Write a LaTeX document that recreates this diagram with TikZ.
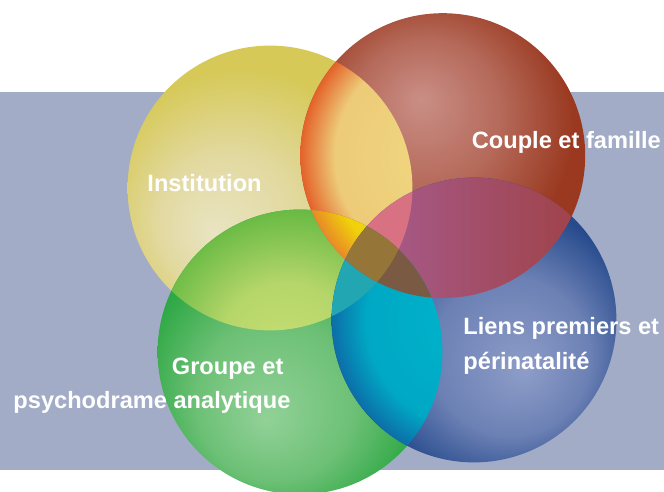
\documentclass[tikz,border=0pt]{standalone}
\usepackage{fontspec}
\setmainfont{Liberation Sans}

\definecolor{bandblue}{HTML}{A2ACC6}
\definecolor{yelIn}{HTML}{E9E4C2}
\definecolor{yelMid}{HTML}{E2D9A0}
\definecolor{yelOut}{HTML}{D6C958}
\definecolor{redIn}{HTML}{CA8E86}
\definecolor{redMid}{HTML}{B56A5A}
\definecolor{redOut}{HTML}{9A3920}
\definecolor{grnIn}{HTML}{92D198}
\definecolor{grnMid}{HTML}{6CC075}
\definecolor{grnOut}{HTML}{2EA845}
\definecolor{bluIn}{HTML}{8E9DC8}
\definecolor{bluMid}{HTML}{6B80B4}
\definecolor{bluOut}{HTML}{264A8C}
\definecolor{yrIn}{HTML}{F0D880}
\definecolor{yrMid}{HTML}{EDCB78}
\definecolor{yrOut}{HTML}{E4622A}
\definecolor{ygIn}{HTML}{C6DE74}
\definecolor{ygMid}{HTML}{B6D66A}
\definecolor{ygOut}{HTML}{68BA44}
\definecolor{gbIn}{HTML}{00B4CC}
\definecolor{gbMid}{HTML}{00A8C4}
\definecolor{gbOut}{HTML}{0C6EA8}
\definecolor{yrgIn}{HTML}{F2DC00}
\definecolor{yrgMid}{HTML}{F0D20A}
\definecolor{yrgOut}{HTML}{E88A28}
\definecolor{rgcol}{HTML}{C07436}
\definecolor{ybcol}{HTML}{3AA8A8}
\definecolor{rbLeft}{HTML}{A8609A}
\definecolor{rbRight}{HTML}{9E3E3C}
\definecolor{yrbcol}{HTML}{D87282}
\definecolor{ygbcol}{HTML}{22A6B2}
\definecolor{rgbcol}{HTML}{7A5A42}
\definecolor{allcol}{HTML}{957638}

\pgfdeclareradialshading{yelshade}{\pgfpoint{-10bp}{-8bp}}{color(0bp)=(yelIn); color(12bp)=(yelMid); color(25bp)=(yelOut); color(50bp)=(yelOut)}
\pgfdeclareradialshading{redshade}{\pgfpoint{-4bp}{10bp}}{color(0bp)=(redIn); color(13bp)=(redMid); color(25bp)=(redOut); color(50bp)=(redOut)}
\pgfdeclareradialshading{grnshade}{\pgfpoint{-6bp}{-12bp}}{color(0bp)=(grnIn); color(14bp)=(grnMid); color(25bp)=(grnOut); color(50bp)=(grnOut)}
\pgfdeclareradialshading{blushade}{\pgfpoint{9bp}{-9bp}}{color(0bp)=(bluIn); color(14bp)=(bluMid); color(25bp)=(bluOut); color(50bp)=(bluOut)}
\pgfdeclareradialshading{yrshade}{\pgfpoint{0bp}{0bp}}{color(0bp)=(yrIn); color(19bp)=(yrMid); color(25bp)=(yrOut); color(50bp)=(yrOut)}
\pgfdeclareradialshading{ygshade}{\pgfpoint{-3bp}{0bp}}{color(0bp)=(ygIn); color(12bp)=(ygMid); color(25bp)=(ygOut); color(50bp)=(ygOut)}
\pgfdeclareradialshading{gbshade}{\pgfpoint{0bp}{0bp}}{color(0bp)=(gbIn); color(19bp)=(gbMid); color(25bp)=(gbOut); color(50bp)=(gbOut)}
\pgfdeclareradialshading{yrgshade}{\pgfpoint{0bp}{0bp}}{color(0bp)=(yrgIn); color(20bp)=(yrgMid); color(25bp)=(yrgOut); color(50bp)=(yrgOut)}

\newcommand{\vennrad}{3.56}

\begin{document}
\begin{tikzpicture}[
        lbl/.style={text=white, font=\fontsize{16.8}{20}\selectfont\bfseries,
                    inner sep=0pt, anchor=base west}]

        \useasboundingbox (00.00,00.00) rectangle (16.60,12.30);

        % band
        \fill[bandblue] (00.00,00.55) rectangle (16.60,10.00);

        % centres
        \coordinate (inst) at (06.75,07.60);
        \coordinate (coup) at (11.07,08.41);
        \coordinate (grou) at (07.50,03.50);
        \coordinate (lien) at (11.85,04.30);

        % circles
        \shade[shading=yelshade] (inst) circle (\vennrad);
        \shade[shading=redshade] (coup) circle (\vennrad);
        \shade[shading=grnshade] (grou) circle (\vennrad);
        \shade[shading=blushade] (lien) circle (\vennrad);

        % Institution & Couple et famille
        \begin{scope}
            \clip (inst) circle (\vennrad);
            \shade[shading=yrshade] (coup) circle (\vennrad);
        \end{scope}

        % Institution & Groupe
        \begin{scope}
            \clip (inst) circle (\vennrad);
            \shade[shading=ygshade] (grou) circle (\vennrad);
        \end{scope}

        % Couple et famille & Groupe
        \begin{scope}
            \clip (coup) circle (\vennrad);
            \fill[rgcol] (grou) circle (\vennrad);
        \end{scope}

        % Institution & Liens premiers
        \begin{scope}
            \clip (inst) circle (\vennrad);
            \fill[ybcol] (lien) circle (\vennrad);
        \end{scope}

        % Couple et famille & Liens premiers
        \begin{scope}
            \clip (coup) circle (\vennrad);
            \shade[left color=rbLeft, right color=rbRight] (lien) circle (\vennrad);
        \end{scope}

        % Groupe & Liens premiers
        \begin{scope}
            \clip (grou) circle (\vennrad);
            \shade[shading=gbshade] (lien) circle (\vennrad);
        \end{scope}

        % Institution & Couple et famille & Groupe
        \begin{scope}
            \clip (inst) circle (\vennrad);
            \clip (grou) circle (\vennrad);
            \shade[shading=yrgshade] (coup) circle (\vennrad);
        \end{scope}

        % Institution & Couple et famille & Liens premiers
        \begin{scope}
            \clip (inst) circle (\vennrad);
            \clip (coup) circle (\vennrad);
            \fill[yrbcol] (lien) circle (\vennrad);
        \end{scope}

        % Institution & Groupe & Liens premiers
        \begin{scope}
            \clip (inst) circle (\vennrad);
            \clip (grou) circle (\vennrad);
            \fill[ygbcol] (lien) circle (\vennrad);
        \end{scope}

        % Couple et famille & Groupe & Liens premiers
        \begin{scope}
            \clip (coup) circle (\vennrad);
            \clip (grou) circle (\vennrad);
            \fill[rgbcol] (lien) circle (\vennrad);
        \end{scope}

        % all four
        \begin{scope}
            \clip (inst) circle (\vennrad);
            \clip (coup) circle (\vennrad);
            \clip (grou) circle (\vennrad);
            \fill[allcol] (lien) circle (\vennrad);
        \end{scope}

        % labels
        \node (instlbl) [lbl] at (03.68,07.51) {Institution};
        \node (couplbl) [lbl] at (11.79,08.59) {Couple et famille};
        \node (groulbl) [lbl] at (04.29,02.93) {Groupe et};
        \node (psylbl)  [lbl] at (00.33,02.09) {psychodrame analytique};
        \node (lienlbl) [lbl] at (11.58,03.93) {Liens premiers et};
        \node (perilbl) [lbl] at (11.58,03.05) {périnatalité};

    \end{tikzpicture}
\end{document}
